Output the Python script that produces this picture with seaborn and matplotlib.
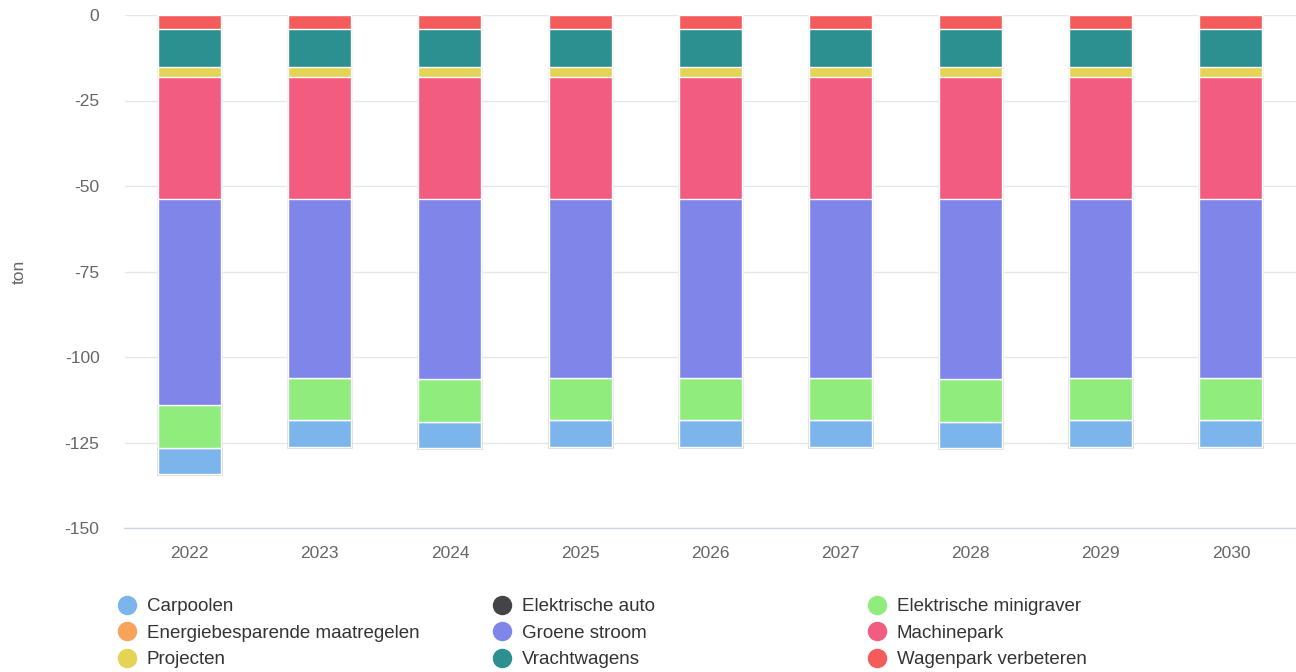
import matplotlib
matplotlib.use("Agg")
import matplotlib.pyplot as plt
import seaborn as sns
import pandas as pd
import numpy as np
from matplotlib.lines import Line2D

years = ["2022", "2023", "2024", "2025", "2026", "2027", "2028", "2029", "2030"]

wagenpark = [-4.0] * 9
vrachtwagens = [-11.2] * 9
projecten = [-2.9] * 9
machinepark = [-35.8] * 9
groene_stroom = [-60.1, -52.1, -52.5, -52.1, -52.1, -52.1, -52.5, -52.1, -52.1]
energiebesparend = [0.0] * 9
minigraver = [-12.7, -12.5, -12.7, -12.5, -12.5, -12.5, -12.7, -12.5, -12.5]
elektrische_auto = [0.0] * 9
carpoolen = [-7.6, -7.9, -7.6, -7.9, -7.9, -7.9, -7.6, -7.9, -7.9]

# stacking order from zero outward
series = [
    ("Wagenpark verbeteren", wagenpark, "#f45b5b"),
    ("Vrachtwagens", vrachtwagens, "#2b908f"),
    ("Projecten", projecten, "#e4d354"),
    ("Machinepark", machinepark, "#f15c80"),
    ("Groene stroom", groene_stroom, "#8085e9"),
    ("Energiebesparende maatregelen", energiebesparend, "#f7a35c"),
    ("Elektrische minigraver", minigraver, "#90ed7d"),
    ("Elektrische auto", elektrische_auto, "#434348"),
    ("Carpoolen", carpoolen, "#7cb5ec"),
]
colors = {n: c for n, _, c in series}

sns.set_theme(style="white")
plt.rcParams["font.family"] = ["Liberation Sans", "DejaVu Sans"]

fig = plt.figure(figsize=(12.96, 6.72), dpi=100)
ax = fig.add_axes([124.5 / 1296, 1 - 528 / 672, (1296 - 124.5) / 1296, 513 / 672])

cum = np.zeros(len(years))
cums = []
for name, vals, col in series:
    cum = cum + np.array(vals)
    cums.append((name, cum.copy(), col))

# draw from farthest to nearest so nearer segments overlay
for i, (name, c, col) in enumerate(reversed(cums)):
    df = pd.DataFrame({"year": years, "value": c})
    if i == 0:
        sns.barplot(data=df, x="year", y="value", color=col, width=0.485,
                    edgecolor="#d0d0d0", linewidth=1.8, saturation=1, ax=ax, zorder=2)
    sns.barplot(data=df, x="year", y="value", color=col, width=0.485,
                edgecolor="white", linewidth=1.0, saturation=1, ax=ax, zorder=3)

ax.set_ylim(-150, 0)
ax.set_xlim(-0.5, len(years) - 0.5)
ax.set_yticks(np.arange(-150, 1, 25))
ax.set_yticklabels([str(v) for v in np.arange(-150, 1, 25)])
ax.yaxis.grid(True, color="#e6e6e6", linewidth=1, zorder=0)
ax.xaxis.grid(False)
ax.set_axisbelow(True)
for s in ["top", "right", "left"]:
    ax.spines[s].set_visible(False)
ax.spines["bottom"].set_color("#ccd6eb")
ax.spines["bottom"].set_linewidth(1)
ax.tick_params(axis="both", length=0, labelsize=12.5, colors="#666666")
ax.tick_params(axis="y", pad=18)
ax.tick_params(axis="x", pad=13)
ax.set_xlabel("")
ax.set_ylabel("ton", fontsize=12.5, color="#666666", labelpad=27)

# legend in three columns
cols = [
    ["Carpoolen", "Energiebesparende maatregelen", "Projecten"],
    ["Elektrische auto", "Groene stroom", "Vrachtwagens"],
    ["Elektrische minigraver", "Machinepark", "Wagenpark verbeteren"],
]
xs = [116, 491, 866]
for x0, names in zip(xs, cols):
    handles = [Line2D([0], [0], marker="o", linestyle="", markersize=13,
                      markerfacecolor=colors[n], markeredgecolor=colors[n]) for n in names]
    leg = fig.legend(handles, names, loc="upper left",
                     bbox_to_anchor=(x0 / 1296, 1 - 598 / 672),
                     frameon=False, fontsize=13.5, handletextpad=0.45,
                     labelspacing=0.5, borderpad=0, borderaxespad=0,
                     handlelength=1.2)
    for t in leg.get_texts():
        t.set_color("#333333")

fig.savefig("out.png", dpi=100)
